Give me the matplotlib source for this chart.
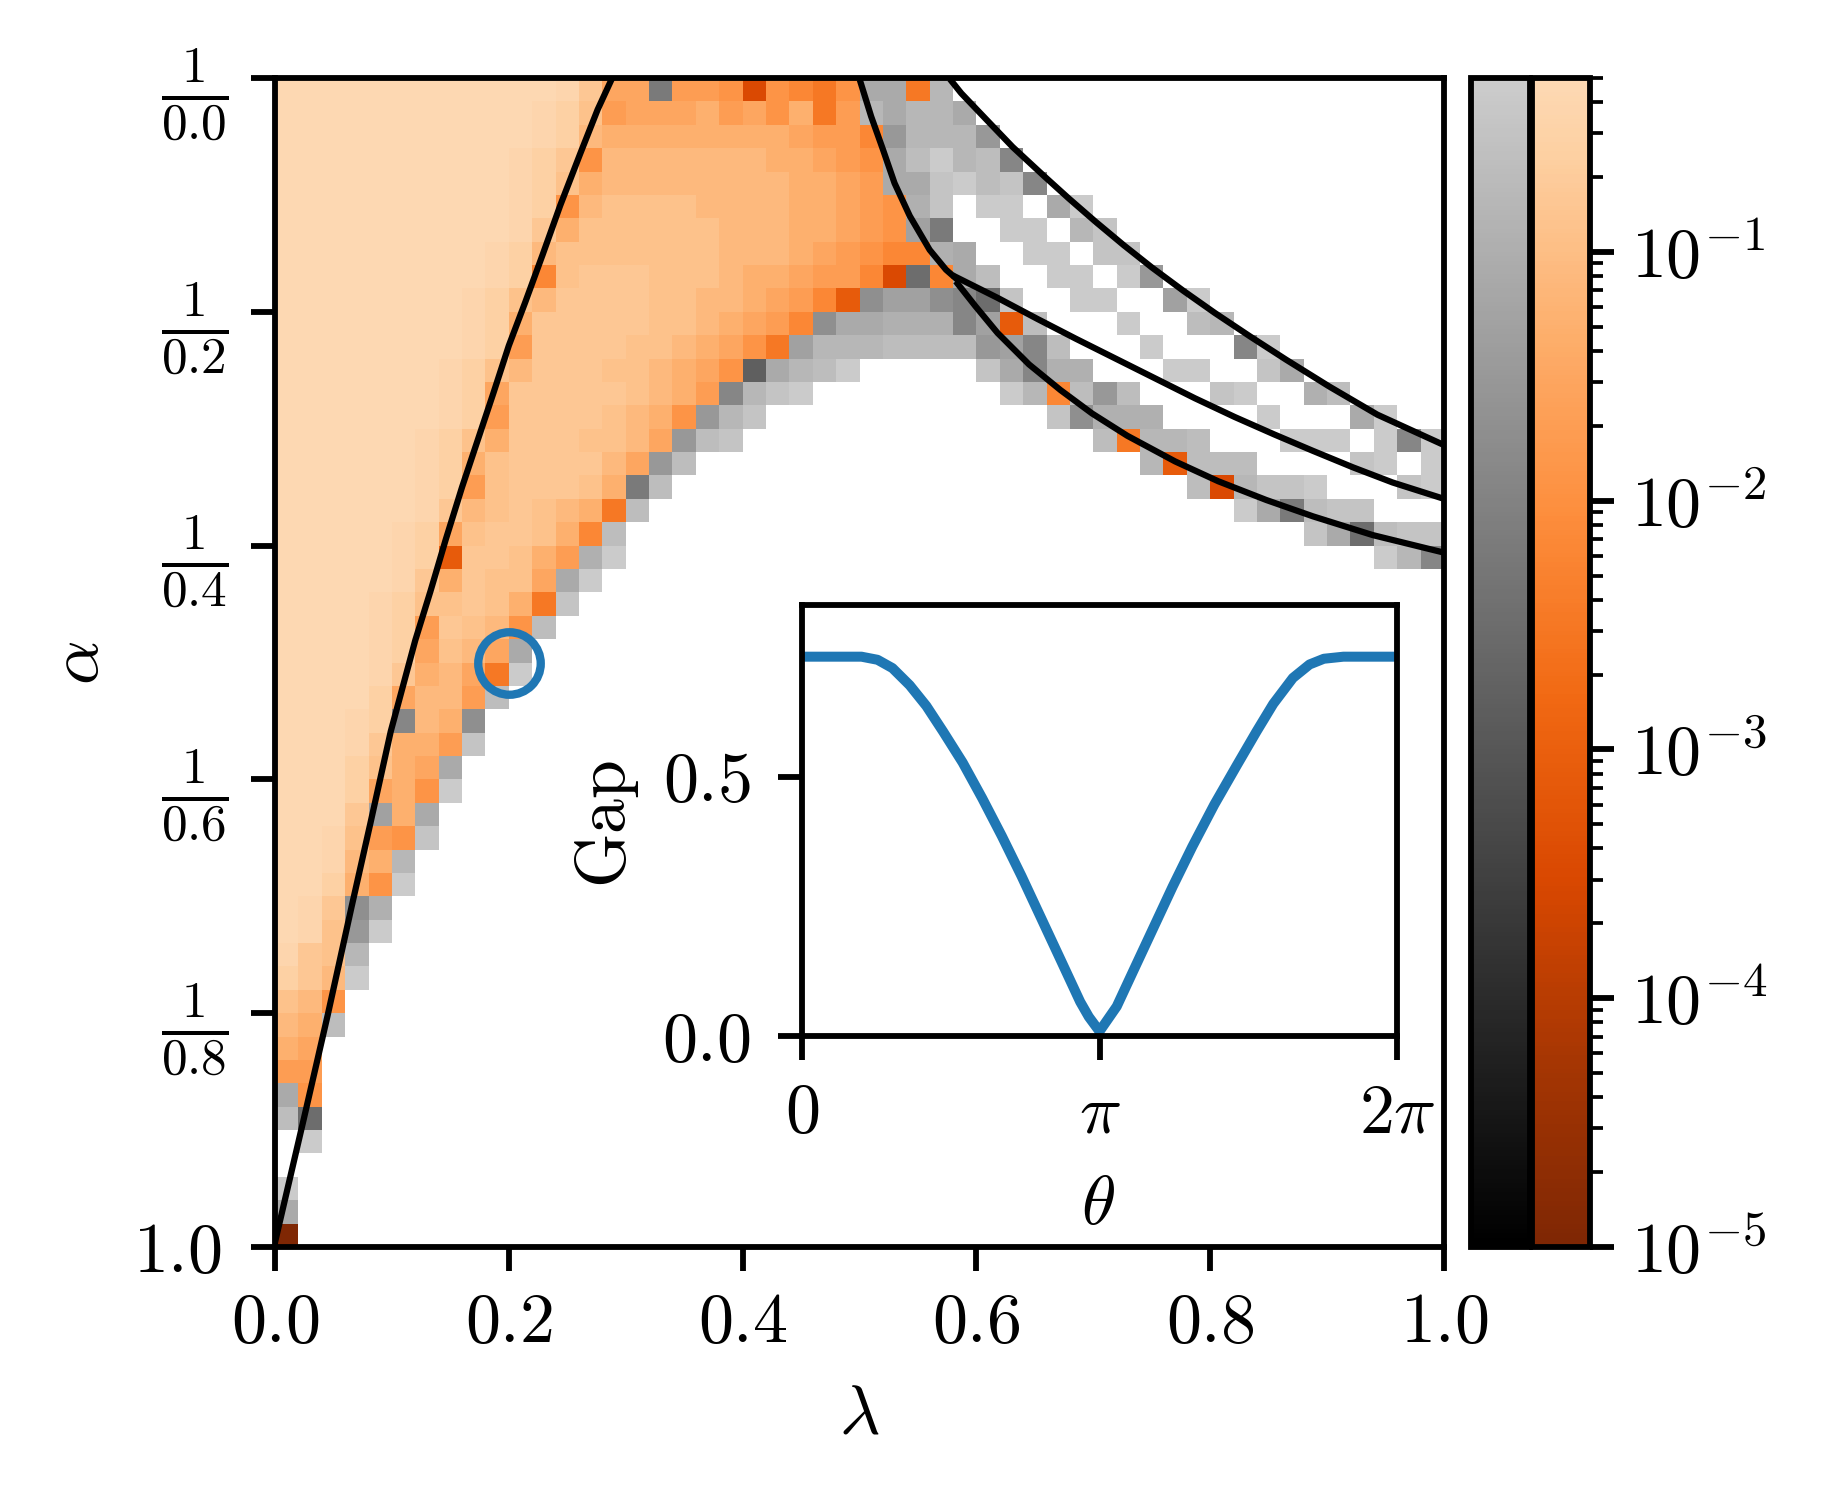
import numpy as np
import matplotlib
matplotlib.use('Agg')
import matplotlib.pyplot as plt
from matplotlib.colors import LinearSegmentedColormap, LogNorm
from matplotlib.cm import ScalarMappable

plt.rcParams['mathtext.fontset'] = 'cm'
plt.rcParams['font.family'] = 'cmr10'
plt.rcParams['axes.formatter.use_mathtext'] = True

W, H, DPI = 1828, 1497, 300
FS = 16.8

# gap levels, one letter per cell, lower case = orange, upper case = grey
level_codes = 'abcdefghijklmnoz'
orange_log10 = [-0.35, -0.42, -0.56, -0.78, -0.92, -1.1, -1.3, -1.5, -1.7, -1.9, -2.2, -2.5, -2.8, -3.1, -3.5, -5.0]
grey_log10 = [-0.35, -0.5, -0.65, -0.8, -0.95, -1.1, -1.3, -1.5, -1.7, -1.9, -2.2, -2.5, -2.8, -3.1, -3.5, -5.0]

gap_rows = [
    'aaaaaaaaaa' 'aabdhhKiij' 'ojkljFFlD.',
    'aaaaaaaaaa' 'abceihhhgi' 'hjgliDFDDF',
    'aaaaaaaaaa' 'abcfgggggg' 'gghiikHDDD' 'H',
    'aaaaaaaaaa' 'bcdjffffff' 'fgghijFCAD' 'CJ',
    'aaaaaaaaaa' 'bcegffffff' 'ffgghiFFBA' 'CBJ',
    'aaaaaaaaaa' 'bcjfeeeeff' 'ffgghijEB.' 'AA.FA',
    'aaaaaaaaaa' 'bdgeeeeeef' 'ffgghijGK.' '.AA.DB',
    'aaaaaaaaab' 'cfeeeeeeef' 'ffghijkkEF' '..AA.BB',
    'aaaaaaaaab' 'ckedddeeef' 'gghiikoLkF' 'C..AA.AH',
    'aaaaaaaabc' 'efddddeeff' 'ghiknIGGIJ' 'LB..AA..GA',
    'aaaaaaaabc' 'gdddddeefg' 'hikIFFEEEJ' 'GnC...A..C' 'D',
    'aaaaaaaabc' 'iddddeefgh' 'jlGDDDCCCC' 'HGJC...A..' '.JA',
    'aaaaaaabce' 'fdddeefghj' 'MFDCA.....' 'BFJEE...AA' '..BF',
    'aaaaaaabch' 'dddddefgiJ' 'DBA.......' '.ADkCHC...' 'BA..EC',
    'aaaaaaabci' 'ddddefgjHD' 'B.........' '...BIEEE..' '..A...FA',
    'aaaaaabceg' 'dddeefhHCB' '..........' '.....ClDDC' '...AAA.AJA',
    'aaaaaabcge' 'ddddfhHC..' '..........' '.......DnC' 'CC....BA.A',
    'aaaaaabcie' 'dddegKC...' '..........' '.........C' 'oDBBA...BA',
    'aaaaaabdfe' 'defglC....' '..........' '..........' '.AFKCBB...',
    'aaaaabched' 'degkC.....' '..........' '..........' '....BFLCBB',
    'aaaaabcndd' 'egiEA.....' '..........' '..........' '.......ADJ',
    'aaaaabdgde' 'ehFA',
    'aaaabceede' 'glB',
    'aaaabcidef' 'jC',
    'aaaabchefh' 'F',
    'aaaabdgfhl' 'A',
    'aaaachffiC',
    'aaabcJfgI',
    'aaabdggiB',
    'aaaceghF',
    'aaachgjA',
    'aaadGgF',
    'aabeijB',
    'aabfgD',
    'aacgjA',
    'abdIE',
    'abeHA',
    'bdeD',
    'cdfA',
    'efj',
    'fgC',
    'gh',
    'ii',
    'Fj',
    'CL',
    '.A',
    '',
    'A',
    'F',
    'z',
]

# black phase boundaries (lambda, 1/alpha)
left_lam = [0.0, 0.0245, 0.045, 0.0655, 0.0815, 0.099, 0.120, 0.133, 0.146, 0.160, 0.173, 0.187, 0.200, 0.214, 0.229, 0.244, 0.261, 0.276, 0.288]
left_y = [0.996, 0.891, 0.802, 0.709, 0.638, 0.559, 0.481, 0.439, 0.395, 0.350, 0.311, 0.269, 0.229, 0.192, 0.151, 0.109, 0.065, 0.027, 0.001]

outer_lam = [0.579, 0.587, 0.608, 0.631, 0.658, 0.679, 0.702, 0.726, 0.750, 0.777, 0.804, 0.834, 0.865, 0.902, 0.943, 1.0]
outer_y = [0.003, 0.013, 0.035, 0.059, 0.084, 0.103, 0.123, 0.143, 0.162, 0.182, 0.201, 0.221, 0.241, 0.264, 0.288, 0.314]

middle_lam = [0.582, 0.618, 0.652, 0.685, 0.719, 0.753, 0.787, 0.821, 0.855, 0.888, 0.922, 0.956, 1.0]
middle_y = [0.170, 0.188, 0.206, 0.223, 0.240, 0.257, 0.274, 0.290, 0.305, 0.319, 0.333, 0.346, 0.360]

upper_lam = [0.501, 0.510, 0.520, 0.530, 0.543, 0.560, 0.574, 0.582]
upper_y = [0.004, 0.033, 0.061, 0.090, 0.118, 0.147, 0.164, 0.171]

lower_lam = [0.584, 0.599, 0.618, 0.645, 0.672, 0.699, 0.729, 0.770, 0.807, 0.848, 0.888, 0.939, 1.0]
lower_y = [0.176, 0.195, 0.218, 0.245, 0.267, 0.287, 0.306, 0.328, 0.345, 0.361, 0.375, 0.391, 0.406]

circle_lam = [0.2]
circle_y = [0.5]

# inset, theta in units of pi
inset_theta = [0.01, 0.20, 0.254, 0.304, 0.362, 0.418, 0.474, 0.54, 0.606, 0.672, 0.738, 0.804, 0.87, 0.935, 0.964, 1.0,
               1.058, 1.114, 1.18, 1.246, 1.312, 1.386, 1.462, 1.528, 1.584, 1.65, 1.706, 1.754, 1.82, 1.992]
inset_gap = [0.731, 0.731, 0.725, 0.709, 0.676, 0.636, 0.587, 0.527, 0.458, 0.385, 0.308, 0.227, 0.146, 0.066, 0.037, 0.009,
             0.057, 0.126, 0.207, 0.288, 0.365, 0.446, 0.522, 0.587, 0.640, 0.690, 0.716, 0.727, 0.731, 0.731]

x_ticks = [0.0, 0.2, 0.4, 0.6, 0.8, 1.0]
x_labels = ['$0.0$', '$0.2$', '$0.4$', '$0.6$', '$0.8$', '$1.0$']
y_ticks = [0.0, 0.2, 0.4, 0.6, 0.8, 1.0]
y_labels = [r'$\frac{1}{0.0}$', r'$\frac{1}{0.2}$', r'$\frac{1}{0.4}$', r'$\frac{1}{0.6}$', r'$\frac{1}{0.8}$', '$1.0$']
cbar_ticks = [1e-5, 1e-4, 1e-3, 1e-2, 1e-1]
cbar_labels = ['$10^{-5}$', '$10^{-4}$', '$10^{-3}$', '$10^{-2}$', '$10^{-1}$']
inset_xticks = [0, np.pi, 2 * np.pi]
inset_xlabels = ['$0$', r'$\pi$', r'$2\pi$']
inset_yticks = [0.0, 0.5]
inset_ylabels = ['$0.0$', '$0.5$']

VMIN, VMAX = 1e-5, 0.5
LW = 1.4


def px_axes(fig, x0, x1, y0, y1):
    return fig.add_axes([x0 / W, 1 - y1 / H, (x1 - x0) / W, (y1 - y0) / H])


orange_lookup = dict(zip(level_codes, orange_log10))
grey_lookup = dict(zip(level_codes, grey_log10))
orange = np.full((50, 50), np.nan)
grey = np.full((50, 50), np.nan)
for i, row in enumerate(gap_rows):
    for j, ch in enumerate(row):
        if ch == '.':
            continue
        if ch.islower():
            orange[i, j] = 10 ** orange_lookup[ch]
        else:
            grey[i, j] = 10 ** grey_lookup[ch.lower()]

cmap_o = LinearSegmentedColormap.from_list('o', plt.get_cmap('Oranges_r')(np.linspace(0, 0.8, 256)))
cmap_g = LinearSegmentedColormap.from_list('g', plt.get_cmap('gray')(np.linspace(0, 0.8, 256)))
norm = LogNorm(vmin=VMIN, vmax=VMAX)

fig = plt.figure(figsize=(W / DPI, H / DPI), dpi=DPI)
ax = px_axes(fig, 275, 1444, 78, 1247)
edges = np.linspace(0, 1, 51)
ax.pcolormesh(edges, edges, np.ma.masked_invalid(orange), cmap=cmap_o, norm=norm, linewidth=0)
ax.pcolormesh(edges, edges, np.ma.masked_invalid(grey), cmap=cmap_g, norm=norm, linewidth=0)

for lam, y in [(left_lam, left_y), (outer_lam, outer_y), (middle_lam, middle_y), (upper_lam, upper_y), (lower_lam, lower_y)]:
    ax.plot(lam, y, color='k', lw=1.5)
ax.plot(circle_lam, circle_y, 'o', mfc='none', mec='#1f77b4', ms=15, mew=2.0)

ax.set_xlim(0, 1)
ax.set_ylim(1, 0)
ax.set_xticks(x_ticks)
ax.set_xticklabels(x_labels, fontsize=FS)
ax.set_yticks(y_ticks)
ax.set_yticklabels(y_labels, fontsize=FS)
for lab in ax.get_yticklabels()[:-1]:
    lab.set_fontsize(17.6)
ax.tick_params(length=5.76, width=LW)
ax.tick_params(axis='x', pad=5)
ax.tick_params(axis='y', pad=5.5)
ax.yaxis.get_major_ticks()[-1].set_pad(7.1)
for s in ax.spines.values():
    s.set_linewidth(LW)
fig.text(80 / W, 1 - 663 / H, r'$\alpha$', fontsize=FS, rotation=90, ha='center', va='center')
fig.text(859 / W, 1 - 1416 / H, r'$\lambda$', fontsize=FS, ha='center', va='center')

# inset
ins = px_axes(fig, 802, 1397, 605, 1036)
ins.plot(np.array(inset_theta) * np.pi, inset_gap, color='#1f77b4', lw=2.4)
ins.set_xlim(0, 2 * np.pi)
ins.set_ylim(0, 0.8306)
ins.set_xticks(inset_xticks)
ins.set_xticklabels(inset_xlabels, fontsize=FS)
ins.set_yticks(inset_yticks)
ins.set_yticklabels(inset_ylabels, fontsize=FS)
ins.tick_params(length=5.76, width=LW)
ins.tick_params(axis='x', pad=17.3)
ins.tick_params(axis='y', pad=6.6)
for lab in ins.get_xticklabels():
    lab.set_va('baseline')
for s in ins.spines.values():
    s.set_linewidth(LW)
fig.text(607 / W, 1 - 824 / H, r'$\mathrm{Gap}$', fontsize=FS, rotation=90, ha='center', va='center')
fig.text(1098 / W, 1 - 1206 / H, r'$\theta$', fontsize=FS, ha='center', va='center')

# the two colorbars side by side
cax_g = px_axes(fig, 1471, 1530, 78, 1247)
cb_g = fig.colorbar(ScalarMappable(norm=norm, cmap=cmap_g), cax=cax_g)
cb_g.ax.yaxis.set_major_locator(plt.NullLocator())
cb_g.ax.yaxis.set_minor_locator(plt.NullLocator())
cb_g.outline.set_linewidth(LW)

cax_o = px_axes(fig, 1532, 1590, 78, 1247)
cb_o = fig.colorbar(ScalarMappable(norm=norm, cmap=cmap_o), cax=cax_o)
cb_o.set_ticks(cbar_ticks)
cb_o.set_ticklabels(cbar_labels, fontsize=FS)
cb_o.outline.set_linewidth(LW)
cb_o.ax.tick_params(which='major', length=5.76, width=LW, pad=4)
cb_o.ax.tick_params(which='minor', length=3.0, width=0.9)

fig.savefig('out.png', dpi=DPI)
